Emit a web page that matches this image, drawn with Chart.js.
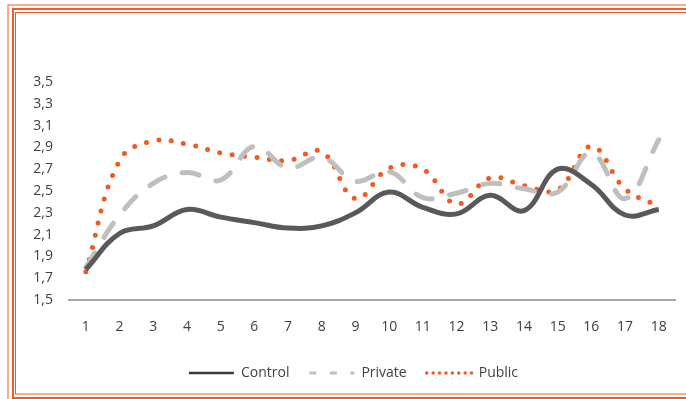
<!DOCTYPE html>
<html>
<head>
<meta charset="utf-8">
<script src="https://cdn.jsdelivr.net/npm/chart.js@4.4.1/dist/chart.umd.min.js"></script>
<style>
  html, body { margin: 0; padding: 0; background: #ffffff; }
  #wrap { position: relative; width: 686px; height: 399px; }
</style>
</head>
<body>
<div id="wrap"><canvas id="chart" width="686" height="399"></canvas></div>
<script>
// Survey rounds 1..18 and mean score per group
const rounds = ['1','2','3','4','5','6','7','8','9','10','11','12','13','14','15','16','17','18'];
const controlValues = [1.78, 2.11, 2.18, 2.33, 2.26, 2.21, 2.16, 2.18, 2.30, 2.49, 2.35, 2.29, 2.46, 2.32, 2.70, 2.56, 2.28, 2.33];
const privateValues = [1.80, 2.28, 2.57, 2.67, 2.60, 2.91, 2.71, 2.81, 2.59, 2.68, 2.44, 2.48, 2.57, 2.52, 2.49, 2.85, 2.43, 2.97];
const publicValues  = [1.76, 2.78, 2.96, 2.93, 2.85, 2.81, 2.78, 2.86, 2.43, 2.71, 2.70, 2.38, 2.62, 2.55, 2.51, 2.91, 2.52, 2.36];
const yTickLabels = ['1,5','1,7','1,9','2,1','2,3','2,5','2,7','2,9','3,1','3,3','3,5'];

const ORANGE = '#F15A22';
const TEXT = '#404040';
const FONT = { family: "'Open Sans', sans-serif", size: 14 };

// Legend samples are drawn thinner than the series lines
const legendStyles = [
  { strokeStyle: '#3a3a3a', lineWidth: 2.5, lineDash: [], lineCap: 'butt' },
  { strokeStyle: '#BFBFBF', lineWidth: 3, lineDash: [7, 13.5], lineCap: 'butt' },
  { strokeStyle: ORANGE, lineWidth: 3.5, lineDash: [0, 6.4], lineCap: 'round' }
];

// Triple orange frame around the figure
const framePlugin = {
  id: 'frame',
  afterDraw(chart) {
    const ctx = chart.ctx;
    ctx.save();
    ctx.strokeStyle = ORANGE;
    ctx.setLineDash([]);
    ctx.lineWidth = 1;
    ctx.strokeRect(8, 5, 700, 420);
    ctx.lineWidth = 2;
    ctx.strokeRect(13, 9, 700, 389);
    ctx.lineWidth = 1;
    ctx.strokeRect(15.5, 12.5, 700, 381.5);
    ctx.restore();
  }
};

new Chart(document.getElementById('chart'), {
  type: 'line',
  data: {
    labels: rounds,
    datasets: [
      {
        label: 'Control',
        data: controlValues,
        borderColor: '#595959',
        borderWidth: 5,
        tension: 0.4,
        pointRadius: 0,
        fill: false
      },
      {
        label: 'Private',
        data: privateValues,
        borderColor: '#BFBFBF',
        borderWidth: 5,
        borderDash: [17, 18],
        borderCapStyle: 'round',
        tension: 0.4,
        pointRadius: 0,
        fill: false
      },
      {
        label: 'Public',
        data: publicValues,
        borderColor: ORANGE,
        borderWidth: 5,
        borderDash: [0, 12.5],
        borderCapStyle: 'round',
        tension: 0.4,
        pointRadius: 0,
        fill: false
      }
    ]
  },
  options: {
    responsive: false,
    animation: false,
    layout: { padding: { left: 30, right: 9, top: 82, bottom: 9 } },
    scales: {
      x: {
        offset: true,
        grid: { display: false, drawTicks: false },
        border: { display: true, color: '#A6A6A6', width: 2 },
        ticks: { color: TEXT, font: FONT, padding: 19, maxRotation: 0 },
        afterFit(axis) { axis.height = 46; }
      },
      y: {
        min: 1.5,
        max: 3.5,
        grid: { display: false, drawTicks: false },
        border: { display: false },
        ticks: {
          stepSize: 0.2,
          color: TEXT,
          font: FONT,
          padding: 16,
          callback: (v, i) => yTickLabels[i]
        },
        afterFit(axis) { axis.width = 39; }
      }
    },
    plugins: {
      tooltip: { enabled: false },
      legend: {
        position: 'bottom',
        labels: {
          color: TEXT,
          font: FONT,
          padding: 20,
          usePointStyle: true,
          pointStyle: 'line',
          pointStyleWidth: 45,
          generateLabels(chart) {
            const items = Chart.defaults.plugins.legend.labels.generateLabels(chart);
            items.forEach((it, i) => Object.assign(it, legendStyles[i], { pointStyle: 'line', fillStyle: 'transparent' }));
            return items;
          }
        }
      }
    }
  },
  plugins: [framePlugin]
});
</script>
</body>
</html>
